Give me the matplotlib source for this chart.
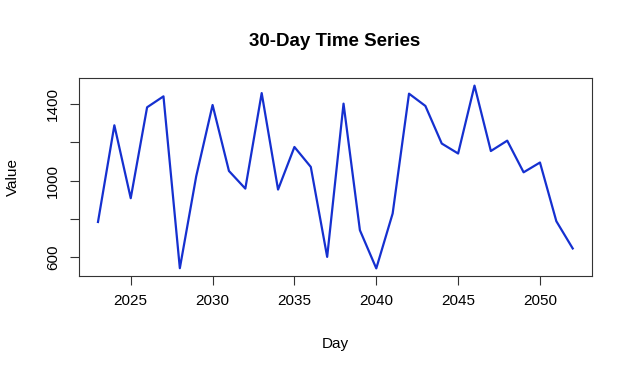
import matplotlib
matplotlib.use("Agg")
import matplotlib.pyplot as plt
import numpy as np

# values
days = list(range(2023, 2053))
values = [785, 1289, 909, 1383, 1440, 544, 1023, 1395, 1051, 959,
          1457, 954, 1176, 1072, 603, 1402, 742, 543, 829, 1454,
          1390, 1194, 1142, 1496, 1155, 1209, 1044, 1095, 789, 647]
x_ticks = [2025, 2030, 2035, 2040, 2045, 2050]
y_ticks = [600, 800, 1000, 1200, 1400]
y_labels = ["600", "", "1000", "", "1400"]

plt.rcParams['font.family'] = ['Liberation Sans', 'DejaVu Sans']

W, H = 632, 374
fig = plt.figure(figsize=(W / 100, H / 100), dpi=100)
ax = fig.add_axes([79 / W, 1 - 275.7 / H, (591.7 - 79) / W, (275.7 - 78.3) / H])

ax.plot(days, values, color='#1530d0', linewidth=1.6)

# R-like limits: 4% padding
x0, x1 = min(days), max(days)
ax.set_xlim(x0 - 0.04 * (x1 - x0), x1 + 0.04 * (x1 - x0))
y0, y1 = min(values), max(values)
ax.set_ylim(y0 - 0.04 * (y1 - y0), y1 + 0.04 * (y1 - y0))

ax.set_xticks(x_ticks)
ax.set_xticklabels([str(t) for t in x_ticks])
ax.set_yticks(y_ticks)
ax.set_yticklabels(y_labels, rotation=90, va='center')

ax.tick_params(direction='out', length=6.5, width=0.8, colors='#333333',
               labelcolor='black', labelsize=11, pad=7)
for s in ax.spines.values():
    s.set_linewidth(0.8)
    s.set_color('#333333')

fig.text(335 / W, 1 - 41 / H, "30-Day Time Series", ha='center', va='center',
         fontsize=13.5, fontweight='bold')
fig.text(335 / W, 1 - 344 / H, "Day", ha='center', va='center', fontsize=11)
fig.text(13 / W, 1 - 177 / H, "Value", ha='center', va='center', fontsize=11,
         rotation=90)

fig.savefig("out.png", dpi=100)
